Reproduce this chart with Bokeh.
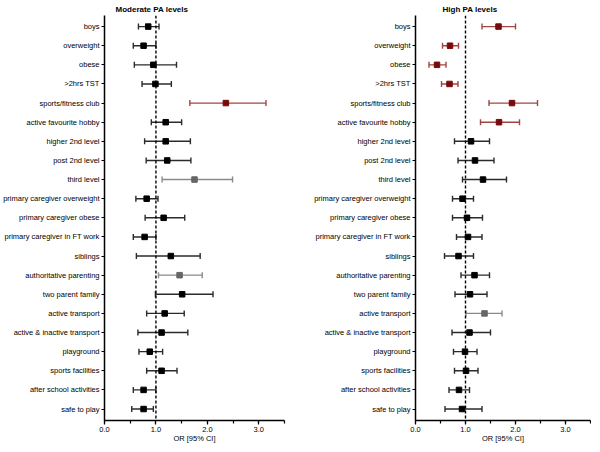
from bokeh.plotting import figure
from bokeh.layouts import row
from bokeh.models import (ColumnDataSource, Whisker, TeeHead, Span, Range1d,
                          FixedTicker, SingleIntervalTicker, PrintfTickFormatter)
from bokeh.embed import file_html
from bokeh.resources import INLINE

categories = ["boys", "overweight", "obese", ">2hrs TST", "sports/fitness club",
              "active favourite hobby", "higher 2nd level", "post 2nd level", "third level",
              "primary caregiver overweight", "primary caregiver obese",
              "primary caregiver in FT work", "siblings", "authoritative parenting",
              "two parent family", "active transport", "active & inactive transport",
              "playground", "sports facilities", "after school activities", "safe to play"]

mod_or = [0.85, 0.76, 0.95, 0.99, 2.36, 1.19, 1.19, 1.22, 1.75, 0.82, 1.15,
          0.78, 1.29, 1.46, 1.51, 1.17, 1.11, 0.88, 1.11, 0.76, 0.76]
mod_lo = [0.66, 0.56, 0.58, 0.73, 1.66, 0.91, 0.78, 0.81, 1.12, 0.61, 0.79,
          0.56, 0.62, 1.05, 0.99, 0.82, 0.65, 0.67, 0.82, 0.56, 0.53]
mod_hi = [1.06, 1.00, 1.40, 1.30, 3.14, 1.50, 1.67, 1.68, 2.49, 1.04, 1.56,
          1.00, 1.86, 1.90, 2.11, 1.55, 1.62, 1.13, 1.41, 1.00, 0.95]
mod_grp = ["ns", "ns", "ns", "ns", "sig", "ns", "ns", "ns", "border", "ns", "ns",
           "ns", "ns", "border", "ns", "ns", "ns", "ns", "ns", "ns", "ns"]

high_or = [1.66, 0.69, 0.43, 0.68, 1.93, 1.67, 1.11, 1.19, 1.35, 0.94, 1.03,
           1.05, 0.86, 1.18, 1.09, 1.38, 1.08, 0.99, 1.01, 0.87, 0.93]
high_lo = [1.33, 0.54, 0.27, 0.52, 1.47, 1.30, 0.78, 0.85, 0.94, 0.74, 0.74,
           0.82, 0.58, 0.91, 0.79, 1.01, 0.73, 0.76, 0.78, 0.67, 0.59]
high_hi = [2.00, 0.86, 0.61, 0.85, 2.44, 2.08, 1.48, 1.57, 1.82, 1.16, 1.34,
           1.33, 1.16, 1.48, 1.43, 1.73, 1.50, 1.23, 1.25, 1.08, 1.33]
high_grp = ["sig", "sig", "sig", "sig", "sig", "sig", "ns", "ns", "ns", "ns", "ns",
            "ns", "ns", "ns", "ns", "border", "ns", "ns", "ns", "ns", "ns"]

LINE = {"ns": "#2b2b2b", "sig": "#a04545", "border": "#8a8a8a"}
MARK = {"ns": "#000000", "sig": "#7a0a0a", "border": "#666666"}
FONT = "Liberation Sans"


def panel(title, ors, los, his, grps, fw, bl, br, toff):
    p = figure(frame_width=fw, frame_height=405, output_backend="svg", toolbar_location=None,
               x_range=Range1d(0, 3.5), y_range=Range1d(20.6, -0.58),
               min_border_left=bl, min_border_right=br, min_border_top=0,
               min_border_bottom=0)
    p.title.text = title
    p.title.align = "left"
    p.title.offset = toff
    p.title.standoff = 4
    p.title.text_font = FONT
    p.title.text_font_size = "8px"
    p.title.text_font_style = "bold"
    p.title.text_color = "black"
    p.outline_line_color = None
    p.xgrid.visible = False
    p.ygrid.visible = False

    ys = list(range(len(categories)))
    for g in ["ns", "border", "sig"]:
        idx = [i for i in ys if grps[i] == g]
        if not idx:
            continue
        src = ColumnDataSource(dict(y=[ys[i] for i in idx], o=[ors[i] for i in idx],
                                    lo=[los[i] for i in idx], hi=[his[i] for i in idx]))
        w = Whisker(base="y", lower="lo", upper="hi", dimension="width", source=src,
                    line_color=LINE[g], line_width=1.4,
                    upper_head=TeeHead(size=6, line_color=LINE[g], line_width=1.4),
                    lower_head=TeeHead(size=6, line_color=LINE[g], line_width=1.4))
        p.add_layout(w)
        p.scatter(x="o", y="y", source=src, marker="square", size=5.5,
                  fill_color=MARK[g], line_color=MARK[g])

    p.add_layout(Span(location=1, dimension="height", line_color="black",
                      line_width=1.4, line_dash="3 2"))

    xa = p.xaxis[0]
    xa.ticker = SingleIntervalTicker(interval=1, num_minor_ticks=2)
    xa.formatter = PrintfTickFormatter(format="%.1f")
    xa.axis_label = "OR [95% CI]"
    xa.axis_label_text_font = FONT
    xa.axis_label_text_font_size = "7.5px"
    xa.axis_label_text_font_style = "normal"
    xa.axis_label_text_color = "black"
    xa.axis_label_standoff = -1
    xa.major_label_text_font = FONT
    xa.major_label_text_font_size = "7.5px"
    xa.major_label_text_color = "black"
    xa.major_label_standoff = 2
    xa.major_tick_out = 4
    xa.major_tick_in = 0
    xa.minor_tick_out = 3
    xa.minor_tick_in = 0
    xa.axis_line_width = 1.5
    xa.major_tick_line_width = 1.2
    xa.minor_tick_line_width = 1.2

    ya = p.yaxis[0]
    ya.ticker = FixedTicker(ticks=ys)
    ya.major_label_overrides = {i: c for i, c in enumerate(categories)}
    ya.major_label_text_font = FONT
    ya.major_label_text_font_size = "7.5px"
    ya.major_label_text_color = "black"
    ya.major_label_standoff = 2
    ya.major_tick_out = 3
    ya.major_tick_in = 0
    ya.minor_tick_line_color = None
    ya.axis_line_width = 1.5
    ya.major_tick_line_width = 1.2
    return p


p1 = panel("Moderate PA levels", mod_or, mod_lo, mod_hi, mod_grp, 180, 94, 6, 11)
p2 = panel("High PA levels", high_or, high_lo, high_hi, high_grp, 175, 125, 1, 27)

layout = row(p1, p2)
open("out.html", "w").write(file_html(layout, INLINE))
